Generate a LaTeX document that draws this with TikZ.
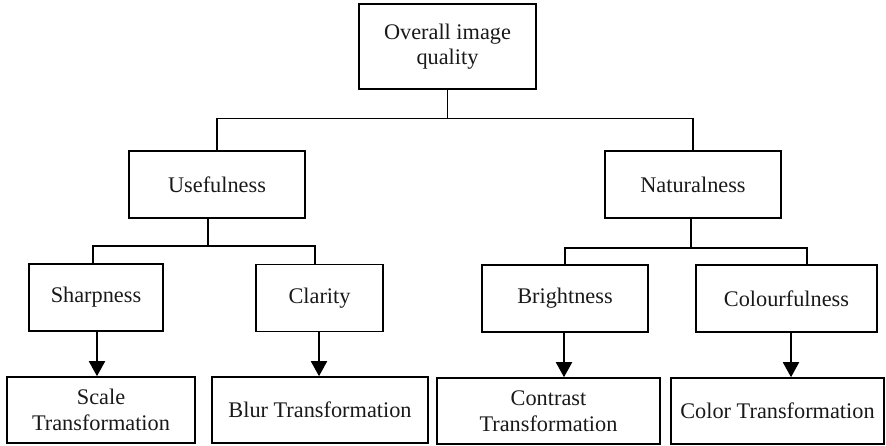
\documentclass[tikz,border=0pt]{standalone}
\usepackage{fontspec}
\setmainfont{Liberation Serif}
\usetikzlibrary{arrows.meta}
\tikzset{
  box/.style={draw=black, line width=1.6pt, rectangle, inner sep=0pt, align=center,
    font=\fontsize{22.3}{25.5}\selectfont, text=black!90},
  conn/.style={draw=black, line width=1.9pt},
  arr/.style={conn, -{Triangle[width=16pt,length=15pt]}}
}
\begin{document}
\begin{tikzpicture}[x=1pt,y=-1pt]
\useasboundingbox (0,0) rectangle (886,445);
% level 0
\node[box, minimum width=177pt, minimum height=85pt] (root) at (447.5,46.5) {Overall image\\quality};
% level 1
\node[box, minimum width=176pt, minimum height=67pt] (useful) at (217,184.5) {Usefulness};
\node[box, minimum width=176pt, minimum height=67pt] (natural) at (693,184.5) {Naturalness};
% level 2
\node[box, minimum width=134pt, minimum height=67pt] (sharp) at (96,297.5) {Sharpness};
\node[box, minimum width=127pt, minimum height=67pt] (clar) at (319.5,298) {Clarity};
\node[box, minimum width=166pt, minimum height=67pt] (bright) at (565,298.5) {Brightness};
\node[box, minimum width=181pt, minimum height=67pt] (colour) at (786.5,298.5) {Colourfulness};
% level 3
\node[box, minimum width=188pt, minimum height=66pt] (scale) at (101,410) {Scale\\Transformation};
\node[box, minimum width=216pt, minimum height=66pt] (blur) at (320,410) {Blur Transformation};
\node[box, minimum width=223pt, minimum height=66pt] (contrast) at (548.5,411) {Contrast\\Transformation};
\node[box, minimum width=213pt, minimum height=66pt] (color) at (777.5,411) {Color Transformation};
% buses
\coordinate (b1) at (447.5,118.5);
\coordinate (b2) at (208,246);
\coordinate (b3) at (691,248);
\draw[conn] (root.south) -- (b1);
\draw[conn] (useful.north) |- (b1) -| (natural.north);
\draw[conn] ([xshift=-9pt]useful.south) -- (b2);
\draw[conn] ([xshift=-3pt]sharp.north) |- (b2) -| ([xshift=-4.5pt]clar.north);
\draw[conn] ([xshift=-2pt]natural.south) -- (b3);
\draw[conn] (bright.north) |- (b3) -| ([xshift=20.5pt]colour.north);
% arrows
\draw[arr] ([xshift=1pt]sharp.south) -- ([xshift=1pt]sharp.south |- scale.north);
\draw[arr] ([xshift=-0.5pt]clar.south) -- ([xshift=-0.5pt]clar.south |- blur.north);
\draw[arr] ([xshift=-1pt]bright.south) -- ([xshift=-1pt]bright.south |- contrast.north);
\draw[arr] ([xshift=4.5pt]colour.south) -- ([xshift=4.5pt]colour.south |- color.north);
\end{tikzpicture}
\end{document}
